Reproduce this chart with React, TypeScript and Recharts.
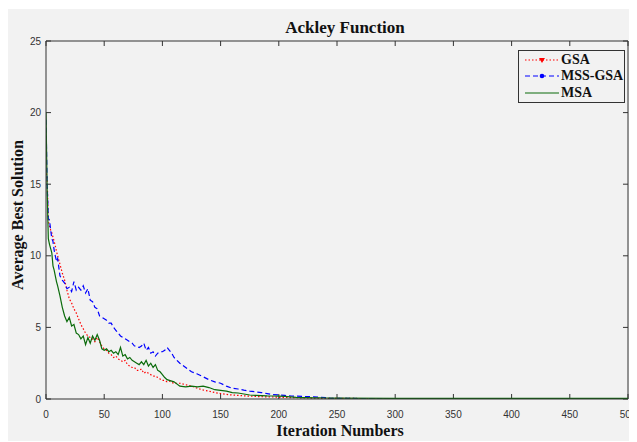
import { LineChart, Line, XAxis, YAxis, ReferenceLine } from "recharts";

// iteration grid (x) shared by the three algorithms
const iterations = [
  0, 1, 2, 3, 4, 5, 6, 7, 8, 9, 10,
  12, 14, 16, 18, 20, 22, 24, 26, 28, 30,
  32, 34, 36, 38, 40, 42, 44, 46, 48, 50,
  52, 54, 56, 58, 60, 62, 64, 66, 68, 70,
  72, 74, 76, 78, 80, 82, 84, 86, 88, 90,
  92, 94, 96, 98, 100, 102, 104, 106, 108, 110,
  115, 120, 125, 130, 135, 140, 145,
  150, 155, 160, 165, 170, 175, 180,
  185, 190, 195, 200, 205, 210, 215,
  220, 225, 230, 235, 240, 245, 250,
  300, 350, 400, 450, 500,
];

const gsaValues = [
  16.0, 15.4, 12.4, 12.1, 11.8, 11.6, 11.3, 11.0, 10.7, 10.3, 10.0,
  9.4, 8.8, 8.3, 7.6, 7.0, 6.7, 6.3, 6.0, 5.6, 5.2,
  4.9, 4.6, 4.4, 4.3, 4.2, 4.0, 4.3, 4.0, 3.7, 3.5,
  3.4, 3.2, 3.1, 2.9, 3.0, 2.8, 2.7, 2.6, 2.7, 2.4,
  2.3, 2.2, 2.2, 2.0, 2.0, 2.1, 1.8, 1.9, 1.8, 1.7,
  1.6, 1.6, 1.5, 1.4, 1.3, 1.3, 1.2, 1.25, 1.15, 1.1,
  1.1, 1.0, 0.9, 0.75, 0.63, 0.55, 0.45,
  0.38, 0.32, 0.28, 0.25, 0.22, 0.2, 0.18,
  0.16, 0.15, 0.14, 0.12, 0.11, 0.1, 0.09,
  0.08, 0.07, 0.06, 0.05, 0.05, 0.04, 0.04,
  0.03, 0.02, 0.02, 0.02, 0.02,
];

const mssGsaValues = [
  19.5, 15.0, 12.6, 12.5, 11.8, 11.2, 11.0, 10.4, 10.0, 9.6, 9.8,
  8.6, 8.3, 8.1, 7.7, 7.8, 7.5, 8.2, 7.6, 7.8, 7.6,
  7.9, 7.4, 7.7, 6.9, 6.8, 6.4, 6.3, 5.8, 5.7, 5.6,
  5.5, 5.3, 5.3, 5.0, 4.8, 4.6, 4.4, 4.3, 4.2, 4.1,
  4.0, 3.9, 3.7, 3.7, 3.6, 3.7, 3.9, 3.4, 3.6, 3.2,
  3.3, 3.0, 3.2, 3.3, 3.3, 3.4, 3.6, 3.4, 3.2, 2.9,
  2.5, 2.2, 1.9, 1.75, 1.55, 1.35, 1.2,
  1.1, 0.9, 0.75, 0.7, 0.62, 0.55, 0.5,
  0.45, 0.38, 0.3, 0.28, 0.25, 0.22, 0.2,
  0.18, 0.17, 0.15, 0.12, 0.1, 0.05, 0.04,
  0.03, 0.02, 0.02, 0.02, 0.02,
];

const msaValues = [
  20.0, 14.5, 11.2, 10.8, 10.5, 10.2, 9.3, 9.0, 8.6, 8.2, 7.9,
  7.2, 6.4, 5.8, 5.4, 5.7, 5.1, 5.2, 4.6, 4.5, 4.2,
  4.4, 3.8, 4.3, 3.9, 4.4, 4.1, 4.5, 4.1, 3.5, 3.4,
  3.5, 3.3, 3.4, 3.2, 3.3, 3.1, 3.6, 3.0, 3.1, 2.8,
  2.9, 2.7, 2.6, 2.5, 2.4, 2.6, 2.4, 2.7, 2.3, 2.5,
  2.2, 2.4, 2.0, 1.9, 1.7, 1.5, 1.35, 1.3, 1.25, 1.2,
  0.9, 0.85, 0.9, 0.85, 0.9, 0.8, 0.65,
  0.6, 0.55, 0.45, 0.42, 0.35, 0.28, 0.26,
  0.24, 0.22, 0.21, 0.2, 0.18, 0.15, 0.12,
  0.1, 0.1, 0.08, 0.08, 0.07, 0.06, 0.06,
  0.05, 0.05, 0.05, 0.05, 0.05,
];

const xTicks = [0, 50, 100, 150, 200, 250, 300, 350, 400, 450, 500];
const yTicks = [0, 5, 10, 15, 20, 25];

const SERIES = [
  { key: "gsa", name: "GSA", color: "#ff0000", dash: "1.5 2", marker: "triangle" },
  { key: "mss", name: "MSS-GSA", color: "#0000ff", dash: "5 3", marker: "dot" },
  { key: "msa", name: "MSA", color: "#0b6b0b", dash: undefined, marker: "none" },
];

const data = iterations.map((it, i) => ({
  it,
  gsa: gsaValues[i],
  mss: mssGsaValues[i],
  msa: msaValues[i],
}));

const BG = "#f2f2f2";
const AXIS = "#333";
const serif = "'Liberation Serif', 'Times New Roman', serif";
const tickStyle = { fontFamily: "'Liberation Sans', Arial, sans-serif", fontSize: 10, fill: "#333" };

// inward tick length in data units (≈5px)
const X_TICK_LEN = 4.3;
const Y_TICK_LEN = 0.35;

const LegendBox = () => (
  <div
    style={{
      position: "absolute",
      left: 512,
      top: 41,
      width: 105,
      height: 50,
      border: `1px solid ${AXIS}`,
      background: BG,
      fontFamily: serif,
      fontWeight: 700,
      fontSize: 14,
      color: "#111",
      paddingTop: 1,
    }}
  >
    {SERIES.map((s) => (
      <div key={s.key} style={{ display: "flex", alignItems: "center", height: 16.3 }}>
        <svg width={42} height={10} style={{ flex: "none" }}>
          <line x1={6} y1={5} x2={40} y2={5} stroke={s.color} strokeWidth={1.2} strokeDasharray={s.dash} />
          {s.marker === "triangle" && <polygon points="20,3 26,3 23,8" fill={s.color} />}
          {s.marker === "dot" && <circle cx={23} cy={5} r={2.3} fill={s.color} />}
        </svg>
        <span style={{ lineHeight: "14px" }}>{s.name}</span>
      </div>
    ))}
  </div>
);

export default function App() {
  return (
    <div style={{ position: "relative", left: -2, top: 1, width: 631, height: 433, background: BG }}>
      <LineChart width={631} height={433} data={data} margin={{ top: 32, right: 9, bottom: 0, left: 0 }}>
        <XAxis
          dataKey="it"
          type="number"
          domain={[0, 500]}
          ticks={xTicks}
          height={43}
          stroke={AXIS}
          tickLine={false}
          tickSize={0}
          tickMargin={12}
          tick={tickStyle}
          allowDataOverflow
        />
        <YAxis
          type="number"
          domain={[0, 25]}
          ticks={yTicks}
          width={40}
          stroke={AXIS}
          tickLine={false}
          tickSize={0}
          tickMargin={5}
          tick={tickStyle}
          allowDataOverflow
        />
        {/* box: top and right edges */}
        <ReferenceLine y={25} stroke={AXIS} />
        <ReferenceLine x={500} stroke={AXIS} />
        {/* inward ticks on all four sides */}
        {xTicks.map((t) => (
          <ReferenceLine key={`xb${t}`} segment={[{ x: t, y: 0 }, { x: t, y: Y_TICK_LEN }]} stroke={AXIS} />
        ))}
        {xTicks.map((t) => (
          <ReferenceLine key={`xt${t}`} segment={[{ x: t, y: 25 }, { x: t, y: 25 - Y_TICK_LEN }]} stroke={AXIS} />
        ))}
        {yTicks.map((t) => (
          <ReferenceLine key={`yl${t}`} segment={[{ x: 0, y: t }, { x: X_TICK_LEN, y: t }]} stroke={AXIS} />
        ))}
        {yTicks.map((t) => (
          <ReferenceLine key={`yr${t}`} segment={[{ x: 500, y: t }, { x: 500 - X_TICK_LEN, y: t }]} stroke={AXIS} />
        ))}
        {SERIES.map((s) => (
          <Line
            key={s.key}
            dataKey={s.key}
            name={s.name}
            type="linear"
            stroke={s.color}
            strokeWidth={1.2}
            strokeDasharray={s.dash}
            dot={false}
            activeDot={false}
            isAnimationActive={false}
          />
        ))}
      </LineChart>
      <LegendBox />
      <svg
        width={631}
        height={433}
        style={{ position: "absolute", left: 0, top: 0, pointerEvents: "none" }}
      >
        <text x={339} y={18} textAnchor="middle" dominantBaseline="central" fontFamily={serif} fontWeight={700} fontSize={17} fill="#111">
          Ackley Function
        </text>
        <text x={334} y={421} textAnchor="middle" dominantBaseline="central" fontFamily={serif} fontWeight={700} fontSize={16} fill="#111">
          Iteration Numbers
        </text>
        <text
          x={11}
          y={206}
          textAnchor="middle"
          dominantBaseline="central"
          fontFamily={serif}
          fontWeight={700}
          fontSize={16}
          fill="#111"
          transform="rotate(-90 11 206)"
        >
          Average Best Solution
        </text>
      </svg>
    </div>
  );
}
